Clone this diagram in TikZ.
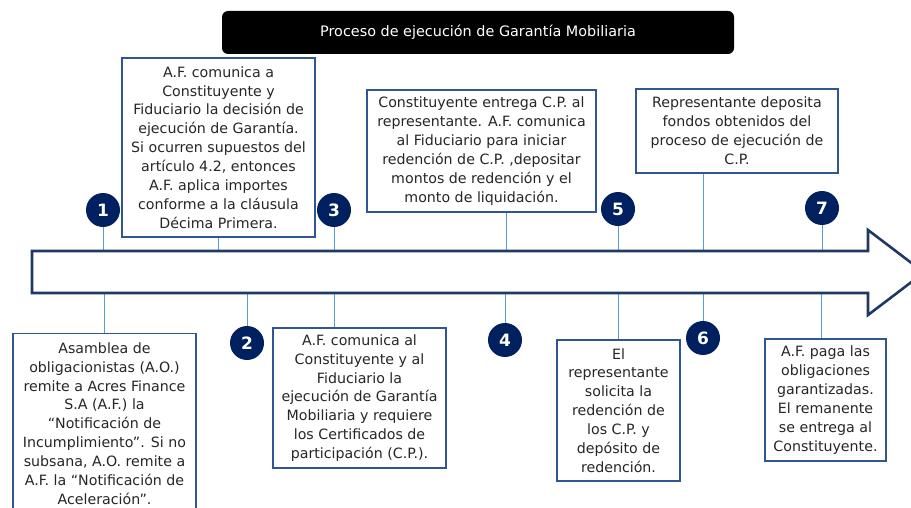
\documentclass[tikz,border=0pt]{standalone}
\usepackage{fontspec}
\setmainfont{DejaVu Sans}
\begin{document}
\begin{tikzpicture}[x=1pt,y=-1pt,
  box/.style={draw=boxblue, line width=1.2pt, fill=white, align=center, inner sep=0pt,
    font=\fontsize{14.2}{18.9}\selectfont, text=black!85},
  num/.style={circle, fill=navy, text=white, inner sep=0pt, minimum size=34pt,
    font=\fontsize{17}{17}\selectfont\bfseries},
  conn/.style={draw=linkblue, line width=1pt}]
\definecolor{navy}{RGB}{0,32,96}
\definecolor{arrowblue}{RGB}{31,56,100}
\definecolor{boxblue}{RGB}{47,85,151}
\definecolor{linkblue}{RGB}{91,155,213}
\useasboundingbox (0,0) rectangle (911,508);
% title
\node[fill=black, rounded corners=6pt, minimum width=512pt, minimum height=43pt, text=white,
  font=\fontsize{14.4}{16}\selectfont] (title) at (478,32.5) {Proceso de ejecución de Garantía Mobiliaria};
% arrow reference coordinates
\coordinate (at) at (0,251);
\coordinate (ab) at (0,293);
% circles
\node[num] (c1) at (103,210) {1};
\node[num] (c3) at (334,210) {3};
\node[num] (c5) at (618,209) {5};
\node[num] (c7) at (822,208) {7};
\node[num] (c2) at (247,343) {2};
\node[num] (c4) at (505,340) {4};
\node[num] (c6) at (703,338) {6};
% boxes top
\node[box, minimum width=193pt, minimum height=179pt] (b2) at (218.5,147.5)
 {A.F. comunica a\\Constituyente y\\Fiduciario la decisión de\\ejecución de Garantía.\\Si ocurren supuestos del\\artículo 4.2, entonces\\A.F. aplica importes\\conforme a la cláusula\\Décima Primera.};
\node[box, minimum width=229pt, minimum height=122pt] (b4) at (481.5,151)
 {Constituyente entrega C.P. al\\representante. A.F. comunica\\al Fiduciario para iniciar\\redención de C.P. ,depositar\\montos de redención y el\\monto de liquidación.};
\node[box, minimum width=202pt, minimum height=84pt] (b6) at (737,131)
 {Representante deposita\\fondos obtenidos del\\proceso de ejecución de\\C.P.};
% boxes bottom
\node[box, minimum width=183pt, minimum height=180pt, anchor=north] (b1) at (104.5,333)
 {Asamblea de\\obligacionistas (A.O.)\\remite a Acres Finance\\S.A (A.F.) la\\“Notificación de\\Incumplimiento”. Si no\\subsana, A.O. remite a\\A.F. la “Notificación de\\Aceleración”.};
\node[box, minimum width=173pt, minimum height=140pt] (b3) at (359.5,398)
 {A.F. comunica al\\Constituyente y al\\Fiduciario la\\ejecución de Garantía\\Mobiliaria y requiere\\los Certificados de\\participación (C.P.).};
\node[box, minimum width=123pt, minimum height=141pt] (b5) at (618.5,410.5)
 {El\\representante\\solicita la\\redención de\\los C.P. y\\depósito de\\redención.};
\node[box, minimum width=121pt, minimum height=122pt] (b7) at (825.5,400)
 {A.F. paga las\\obligaciones\\garantizadas.\\El remanente\\se entrega al\\Constituyente.};
% connectors
\draw[conn] (c1.south) -- (c1.south |- at);
\draw[conn] (b2.south) -- (b2.south |- at);
\draw[conn] (c3.south) -- (c3.south |- at);
\draw[conn] ([xshift=24.5pt]b4.south) -- ([xshift=24.5pt]b4.south |- at);
\draw[conn] (c5.south) -- (c5.south |- at);
\draw[conn] ([xshift=-34pt]b6.south) -- ([xshift=-34pt]b6.south |- at);
\draw[conn] (c7.south) -- (c7.south |- at);
\draw[conn] (b1.north |- ab) -- (b1.north);
\draw[conn] (c2.north |- ab) -- (c2.north);
\draw[conn] ([xshift=-25.5pt]b3.north |- ab) -- ([xshift=-25.5pt]b3.north);
\draw[conn] (c4.north |- ab) -- (c4.north);
\draw[conn] (b5.north |- ab) -- (b5.north);
\draw[conn] (c6.north |- ab) -- (c6.north);
\draw[conn] ([xshift=-4.5pt]b7.north |- ab) -- ([xshift=-4.5pt]b7.north);
% arrow
\draw[draw=arrowblue, line width=2.6pt, fill=white, line join=miter]
  (32,251) -- (868,251) -- (868,230) -- (924,272.5) -- (868,315) -- (868,293) -- (32,293) -- cycle;
\end{tikzpicture}
\end{document}
